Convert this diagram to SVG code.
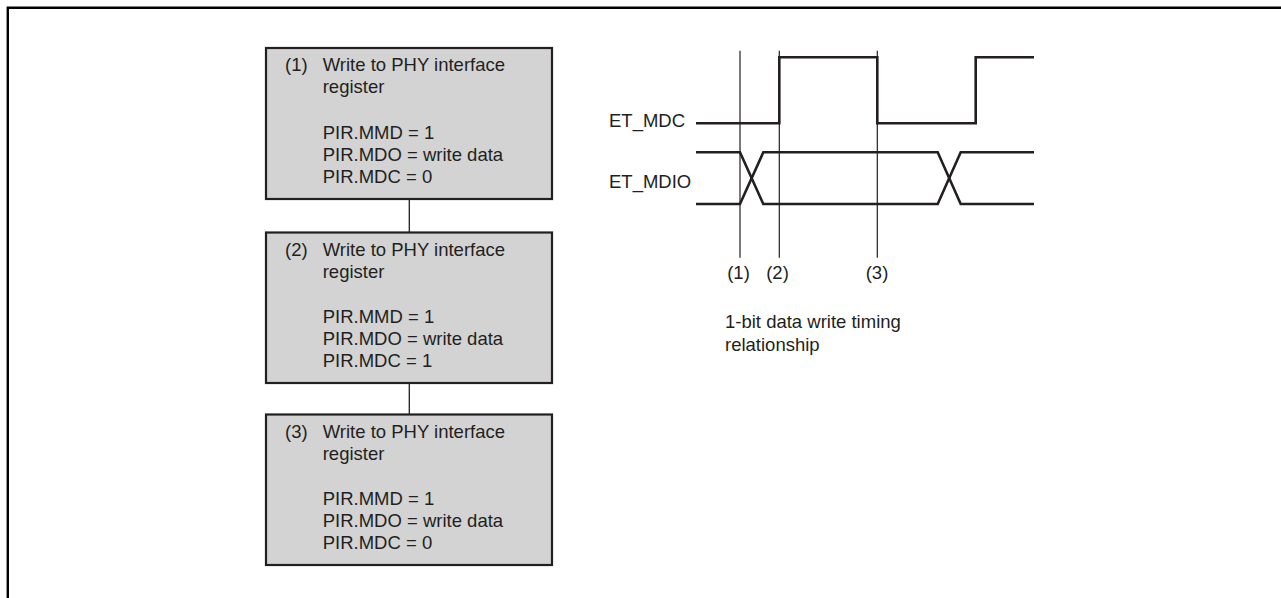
<svg xmlns="http://www.w3.org/2000/svg" width="1281" height="598" viewBox="0 0 1281 598">
<style>
text{font-family:"Liberation Sans",Arial,sans-serif;font-size:18.5px;fill:#231f20}
.box{fill:#d3d3d4;stroke:#231f20;stroke-width:2.2}
.conn{stroke:#231f20;stroke-width:1.3;fill:none}
.sig{stroke:#231f20;stroke-width:2.6;fill:none;stroke-linejoin:miter}
.mark{stroke:#231f20;stroke-width:1.2;fill:none}
.frame{stroke:#000;stroke-width:2.4;fill:none}
</style>
<rect width="1281" height="598" fill="#fff"/>
<path class="frame" d="M7.8,598 V7.8 H1281"/>
<g id="connectors">
<line class="conn" x1="409.3" y1="199" x2="409.3" y2="232.5"/>
<line class="conn" x1="409.3" y1="383" x2="409.3" y2="414.5"/>
</g>
<g id="node1">
<rect class="box" x="266" y="48" width="286" height="151"/>
<text x="285" y="71">(1)</text>
<text x="322.7" y="71">Write to PHY interface</text>
<text x="322.7" y="93">register</text>
<text x="322.7" y="138.5">PIR.MMD = 1</text>
<text x="322.7" y="160.5">PIR.MDO = write data</text>
<text x="322.7" y="182.5">PIR.MDC = 0</text>
</g>
<g id="node2">
<rect class="box" x="266" y="232.5" width="286" height="150.5"/>
<text x="285" y="255.5">(2)</text>
<text x="322.7" y="255.5">Write to PHY interface</text>
<text x="322.7" y="277.5">register</text>
<text x="322.7" y="323">PIR.MMD = 1</text>
<text x="322.7" y="345">PIR.MDO = write data</text>
<text x="322.7" y="367">PIR.MDC = 1</text>
</g>
<g id="node3">
<rect class="box" x="266" y="414.5" width="286" height="150.5"/>
<text x="285" y="437.5">(3)</text>
<text x="322.7" y="437.5">Write to PHY interface</text>
<text x="322.7" y="459.5">register</text>
<text x="322.7" y="505">PIR.MMD = 1</text>
<text x="322.7" y="527">PIR.MDO = write data</text>
<text x="322.7" y="549">PIR.MDC = 0</text>
</g>
<g id="timing">
<line class="mark" x1="740" y1="50.7" x2="740" y2="257.7"/>
<line class="mark" x1="779.3" y1="50.7" x2="779.3" y2="257.7"/>
<line class="mark" x1="877.3" y1="50.7" x2="877.3" y2="257.7"/>
<path class="sig" d="M696,123.3 H779.3 V57.3 H877.3 V123.3 H975.7 V57.3 H1034"/>
<path class="sig" d="M696,152.3 H740 L763.3,204 H937.7 L960.7,152.3 H1034"/>
<path class="sig" d="M696,204 H740 L763.3,152.3 H937.7 L960.7,204 H1034"/>
<text x="609" y="126.7">ET_MDC</text>
<text x="609" y="188.3">ET_MDIO</text>
<text x="738.5" y="279" text-anchor="middle">(1)</text>
<text x="777.5" y="279" text-anchor="middle">(2)</text>
<text x="877" y="279" text-anchor="middle">(3)</text>
<text x="725" y="328">1-bit data write timing</text>
<text x="725" y="350.5">relationship</text>
</g>
</svg>
